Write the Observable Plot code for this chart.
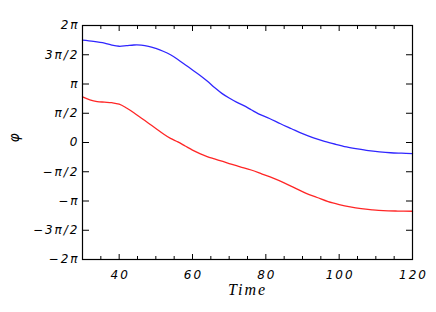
<!DOCTYPE html>
<html>
<head>
<meta charset="utf-8">
<script src="https://cdn.jsdelivr.net/npm/d3@7"></script>
<script src="https://cdn.jsdelivr.net/npm/@observablehq/plot@0.6"></script>
<style>
html, body { margin: 0; padding: 0; background: #fff; }
#chart { width: 436px; height: 312px; }
</style>
</head>
<body>
<div id="chart"></div>
<script>
// phase values are in units of π
const blueTime = [30,33,36,38,40,42,44,46,48,50,52,54,56,58,60,62,64,66,68,70,72,74,76,78,81,84,87,90,93,96,99,102,105,108,111,114,117,120];
const bluePhi  = [1.75,1.73,1.70,1.665,1.645,1.655,1.667,1.665,1.645,1.607,1.56,1.50,1.42,1.33,1.24,1.15,1.05,0.94,0.84,0.76,0.69,0.63,0.56,0.49,0.41,0.32,0.235,0.15,0.08,0.02,-0.03,-0.075,-0.11,-0.14,-0.16,-0.175,-0.183,-0.19];
const redTime = [30,32,34,36,38,40,42,44,46,48,50,52,54,56,58,60,62,64,66,68,70,73,76,79,82,85,88,91,94,97,100,103,106,109,112,116,120];
const redPhi  = [0.78,0.73,0.70,0.69,0.68,0.655,0.59,0.51,0.42,0.33,0.24,0.15,0.07,0.01,-0.06,-0.13,-0.19,-0.24,-0.28,-0.32,-0.36,-0.415,-0.47,-0.54,-0.61,-0.69,-0.78,-0.87,-0.94,-1.01,-1.06,-1.10,-1.13,-1.15,-1.165,-1.172,-1.175];

const xMajor = [40,60,80,100,120];
const xMinor = [35,45,50,55,65,70,75,85,90,95,105,110,115];
const yTicks = [-2,-1.5,-1,-0.5,0,0.5,1,1.5,2];
const yLabels = ["\u22122\u03c0","\u22123\u03c0/2","\u2212\u03c0","\u2212\u03c0/2","0","\u03c0/2","\u03c0","3\u03c0/2","2\u03c0"];

const blue = blueTime.map((t,i) => ({t, phi: bluePhi[i]}));
const red = redTime.map((t,i) => ({t, phi: redPhi[i]}));
const yLab = new Map(yTicks.map((v,i) => [v, yLabels[i]]));

const chart = Plot.plot({
  width: 436,
  height: 312,
  marginLeft: 82,
  marginRight: 24,
  marginTop: 25,
  marginBottom: 53,
  style: {fontFamily: "'DejaVu Sans', sans-serif", fontSize: "12px", fontStyle: "italic", letterSpacing: "2px", color: "#000", background: "#fff"},
  x: {domain: [30,120]},
  y: {domain: [-2,2]},
  marks: [
    Plot.line(blue, {x: "t", y: "phi", stroke: "#3026ff", strokeWidth: 1.3, curve: "catmull-rom"}),
    Plot.line(red, {x: "t", y: "phi", stroke: "#ff2626", strokeWidth: 1.3, curve: "catmull-rom"}),
    Plot.axisX({anchor: "bottom", ticks: xMajor, tickSize: -5, text: null, label: null, stroke: "#000"}),
    Plot.axisX({anchor: "top", ticks: xMajor, tickSize: -5, text: null, label: null, stroke: "#000"}),
    Plot.axisX({anchor: "bottom", ticks: xMinor, tickSize: -3, text: null, label: null, stroke: "#000"}),
    Plot.axisX({anchor: "top", ticks: xMinor, tickSize: -3, text: null, label: null, stroke: "#000"}),
    Plot.axisX({anchor: "bottom", ticks: xMajor, tickSize: 0, tickPadding: 11, dx: 1, label: null, fill: "#000"}),
    Plot.axisY({anchor: "left", ticks: yTicks, tickSize: -7, text: null, label: null, stroke: "#000"}),
    Plot.axisY({anchor: "right", ticks: yTicks, tickSize: -7, text: null, label: null, stroke: "#000"}),
    Plot.axisY({anchor: "left", ticks: yTicks, tickSize: 0, tickPadding: 3, tickFormat: d => yLab.get(d), label: null, fill: "#000"}),
    Plot.frame({stroke: "#000", strokeWidth: 1.2}),
    Plot.text(["Time"], {frameAnchor: "bottom", dy: 35, fontFamily: "'Liberation Serif', serif", fontStyle: "italic", fontSize: 16, fill: "#000"}),
    Plot.text(["\u03c6"], {frameAnchor: "left", dx: -68, rotate: -90, fontSize: 14, fill: "#000"})
  ]
});
document.getElementById("chart").appendChild(chart);
</script>
</body>
</html>
